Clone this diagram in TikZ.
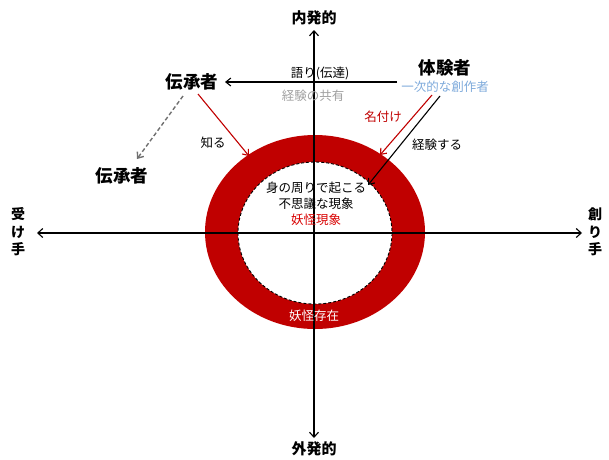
\documentclass[tikz,border=0pt]{standalone}
\usepackage{fontspec}
\setmainfont{Noto Sans CJK JP}
\usetikzlibrary{arrows.meta}
\definecolor{ringred}{HTML}{C00000}
\definecolor{lblue}{HTML}{7EAADB}
\definecolor{lgrey}{HTML}{A0A0A0}
\definecolor{dgrey}{HTML}{707070}
\begin{document}
\begin{tikzpicture}[x=1pt,y=-1pt,
  lbl/.style={inner sep=0pt,font=\fontsize{12.5}{14}\selectfont},
  big/.style={inner sep=0pt,font=\fontsize{17.5}{20}\selectfont\bfseries},
  axlbl/.style={inner sep=0pt,font=\fontsize{15}{18}\selectfont\bfseries},
  vlbl/.style={inner sep=0pt,align=center,font=\fontsize{14}{17.5}\selectfont\bfseries},
  arr/.style={line width=1.1pt,-{Straight Barb[length=5pt,width=8pt]}},
  axis/.style={line width=1.1pt,{Straight Barb[length=5pt,width=9pt]}-{Straight Barb[length=5pt,width=9pt]}}
]
\useasboundingbox (0,0) rectangle (609,459);
% ring
\fill[ringred] (315,232) ellipse [x radius=110, y radius=97];
\fill[white] (315,233) ellipse [x radius=77, y radius=71];
\draw[line width=0.9pt,dash pattern=on 3pt off 2pt] (315,233) ellipse [x radius=77, y radius=71];
% axes
\coordinate (axL) at (37,233);
\coordinate (axR) at (582,233);
\coordinate (axT) at (314,30);
\coordinate (axB) at (314,438);
\draw[axis] (axL) -- (axR);
\draw[axis] (axT) -- (axB);
% axis labels
\node[axlbl] (naiha) at (314,18) {内発的};
\node[axlbl] (gaiha) at (314,449) {外発的};
\node[vlbl] (uke) at (18,232) {受\\け\\手};
\node[vlbl] (tsukuri) at (595,232) {創\\り\\手};
% people
\node[big] (densho) at (192,82) {伝承者};
\node[big] (densho2) at (122,176) {伝承者};
\node[big] (taiken) at (445,68) {体験者};
\node[lbl,text=lblue] (ichiji) at (445,87) {一次的な創作者};
% labels
\node[lbl] (katari) at (320,73) {語り(伝達)};
\node[lbl,text=lgrey] (kyoyu) at (313,96) {経験の共有};
\node[lbl] (shiru) at (213,143) {知る};
\node[lbl,text=ringred] (nazuke) at (383,117) {名付け};
\node[lbl] (keiken) at (437,145) {経験する};
\node[lbl] (in1) at (316,188) {身の周りで起こる};
\node[lbl] (in2) at (316,204) {不思議な現象};
\node[lbl,text=red!85!black] (in3) at (316,220) {妖怪現象};
\node[lbl,text=white] (sonzai) at (314,316) {妖怪存在};
% connectors
\coordinate (kaS) at (397,82);
\coordinate (kaE) at (225,82);
\draw[arr] (kaS) -- (kaE);
\coordinate (shS) at (198,94);
\coordinate (shE) at (249,156);
\draw[arr,ringred] (shS) -- (shE);
\coordinate (nzS) at (432,95);
\coordinate (nzE) at (380,155);
\draw[arr,ringred] (nzS) -- (nzE);
\coordinate (kkS) at (440,96);
\coordinate (kkE) at (368,185);
\draw[arr] (kkS) -- (kkE);
\coordinate (dsS) at (183,96);
\coordinate (dsE) at (137,159);
\draw[arr,dgrey,line width=1.4pt,dash pattern=on 4pt off 2.5pt] (dsS) -- (dsE);
\end{tikzpicture}
\end{document}
